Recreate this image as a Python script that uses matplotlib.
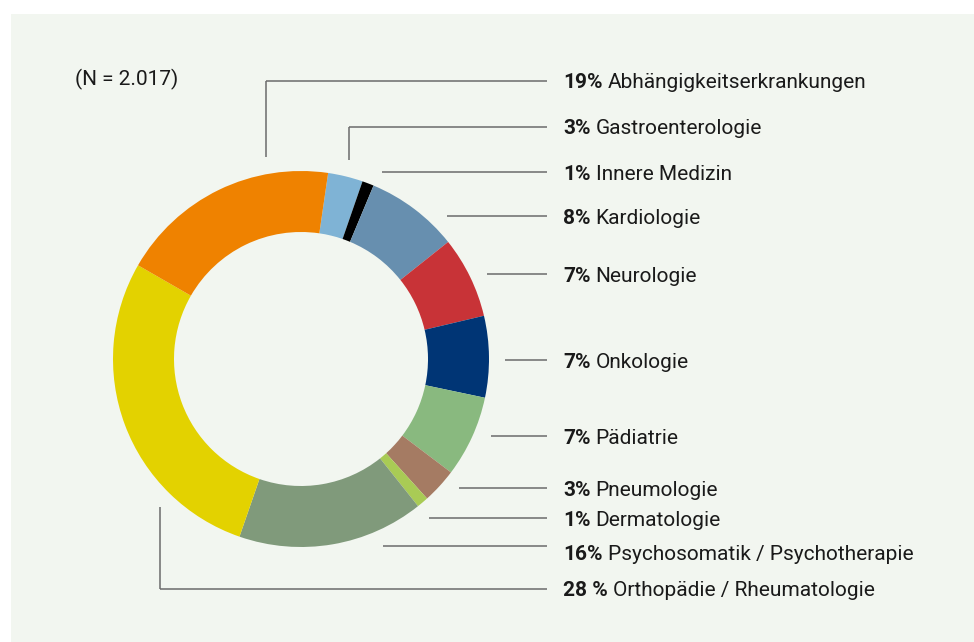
import matplotlib
matplotlib.use("Agg")
import matplotlib.pyplot as plt
from matplotlib.patches import Rectangle

# Data (clockwise from top)
categories = ["Gastroenterologie", "Innere Medizin", "Kardiologie", "Neurologie",
              "Onkologie", "Pädiatrie", "Pneumologie", "Dermatologie",
              "Psychosomatik / Psychotherapie", "Orthopädie / Rheumatologie",
              "Abhängigkeitserkrankungen"]
values = [3, 1, 8, 7, 7, 7, 3, 1, 16, 28, 19]
pct_labels = ["3%", "1%", "8%", "7%", "7%", "7%", "3%", "1%", "16%", "28 %", "19%"]
colors = ["#7fb3d5", "#000000", "#678faf", "#c83337", "#003575", "#89b97f",
          "#a57b63", "#a9cb55", "#809a7b", "#e3d200", "#ef8200"]
note = "(N = 2.017)"

W, H = 974, 642
fig = plt.figure(figsize=(W / 100, H / 100), dpi=100)
fig.patch.set_facecolor("white")
ax = fig.add_axes([0, 0, 1, 1])

def Y(y):
    return H - y

bg = "#f2f6f0"
ax.add_patch(Rectangle((11, 0), W - 11, H - 14, facecolor=bg, edgecolor="none", zorder=0))

cx, cy, R, w = 301, 359, 188, 61
ax.pie(values, colors=colors, startangle=81.7, counterclock=False,
       center=(cx, Y(cy)), radius=R,
       wedgeprops=dict(width=w, edgecolor="none", linewidth=0))
ax.set_xlim(0, W)
ax.set_ylim(0, H)
ax.set_aspect("equal")
ax.axis("off")

# label layout (pixel coords): text y, line y, line start x, optional vertical end y
text_y = [127, 172, 217, 274, 361, 437, 489, 519, 553, 589, 81]
line_y = [127, 172, 216, 274, 360, 436, 488, 518, 546, 589, 81]
line_x0 = [349, 382, 447, 487, 505, 491, 459, 429, 383, 160, 266]
vert_end = [160, None, None, None, None, None, None, None, None, 507, 157]

lc = "#6b6b6b"
x_end = 547
tx = 563
fam = ["Roboto", "DejaVu Sans"]
fs = 15
dy = 2
for i in range(len(categories)):
    ax.plot([line_x0[i], x_end], [Y(line_y[i])] * 2, color=lc, lw=1.1,
            solid_capstyle="butt", zorder=3)
    if vert_end[i] is not None:
        ax.plot([line_x0[i]] * 2, [Y(line_y[i]), Y(vert_end[i])], color=lc, lw=1.1,
                solid_capstyle="butt", zorder=3)
    t = ax.text(tx, Y(text_y[i] + dy), pct_labels[i], fontsize=fs, fontweight="bold",
                family=fam, va="center", ha="left", color="#1a1a1a")
    fig.canvas.draw()
    bb = t.get_window_extent()
    ax.text(bb.x1 + 5, Y(text_y[i] + dy), categories[i], fontsize=fs,
            family=fam, va="center", ha="left", color="#1a1a1a")

ax.text(75, Y(77 + dy), note, fontsize=fs, family=fam, va="center", ha="left", color="#1a1a1a")

fig.savefig("out.png", dpi=100, facecolor="white")
